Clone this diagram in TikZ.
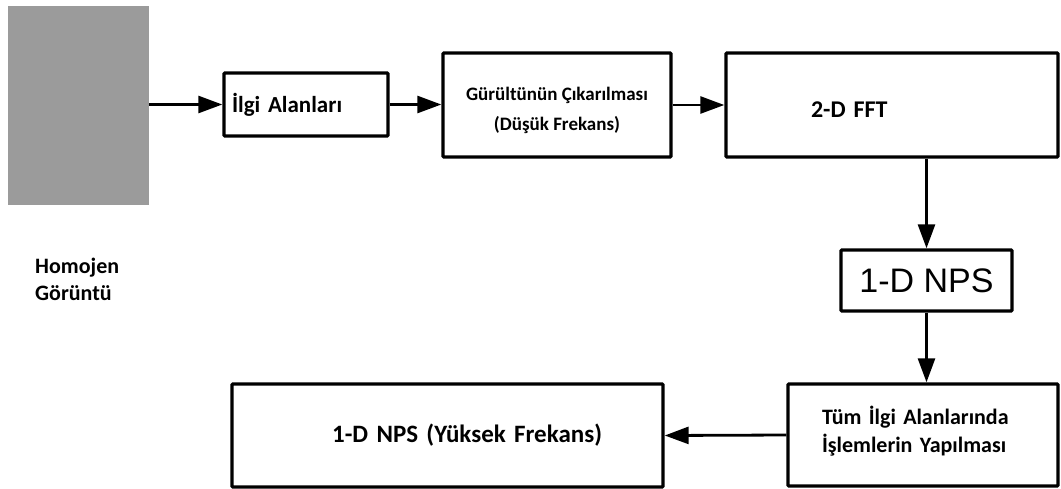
\documentclass[tikz,border=0pt]{standalone}
\usepackage{fontspec}
\setmainfont{Carlito}
\newfontfamily\arialf{Liberation Sans}
\usetikzlibrary{arrows.meta}
\definecolor{imggray}{RGB}{155,155,155}
\begin{document}
\begin{tikzpicture}[x=1pt,y=-1pt,
  box/.style={draw, line width=3.4pt, rectangle, rounded corners=1pt, inner ysep=0pt},
  arr/.style={line width=2.8pt, -{Triangle[length=24pt,width=17pt]}}]
\useasboundingbox[fill=white] (0,0) rectangle (1061,488);
% gray image
\node[fill=imggray, minimum width=141pt, minimum height=199pt, inner sep=0pt] (img) at (78.5,105.5) {};
\node[anchor=west, align=left, inner sep=0pt, font=\fontsize{22}{27}\selectfont\bfseries] (lbl) at (35,279) {Homojen\\Görüntü};
% boxes
\node[box, minimum width=164pt, minimum height=63pt, text width=148pt, inner xsep=8pt, align=left, font=\fontsize{23}{27}\selectfont\bfseries] (ilgi) at (306,104.5) {İlgi Alanları};
\node[box, minimum width=228pt, minimum height=104pt, align=center, font=\fontsize{19}{30}\selectfont\bfseries] (gur) at (557,105) {\\[-6pt]Gürültünün Çıkarılması\\(Düşük Frekans)};
\node[box, minimum width=332pt, minimum height=104pt, text width=162pt, inner xsep=85pt, text height=24pt, text depth=0pt, align=left, font=\fontsize{24}{28}\selectfont\bfseries] (fft) at (892,105) {2-D FFT};
\node[box, minimum width=171pt, minimum height=61pt, inner xsep=0pt, align=center, font=\fontsize{34}{38}\selectfont\arialf] (nps) at (926.5,280.5) {1-D NPS};
\node[box, minimum width=270pt, minimum height=102pt, text width=202pt, inner xsep=34pt, align=left, font=\fontsize{22}{28}\selectfont\bfseries] (tum) at (923,435) {Tüm İlgi Alanlarında\\İşlemlerin Yapılması\\[-16pt]\mbox{}};
\node[box, minimum width=431pt, minimum height=103pt, text width=309pt, inner xsep=61pt, align=right, font=\fontsize{25}{30}\selectfont\bfseries] (yuk) at (447.5,435.5) {1-D NPS (Yüksek Frekans)};
% arrows
\draw[arr] (ilgi.west -| img.east) -- (ilgi.west);
\draw[arr] (ilgi.east) -- (ilgi.east -| gur.west);
\draw[arr] (gur.east) -- (fft.west);
\draw[arr] (nps.north |- fft.south) -- (nps.north);
\draw[arr] (nps.south) -- (nps.south |- tum.north);
\draw[arr] (tum.west) -- (yuk.east);
\end{tikzpicture}
\end{document}
